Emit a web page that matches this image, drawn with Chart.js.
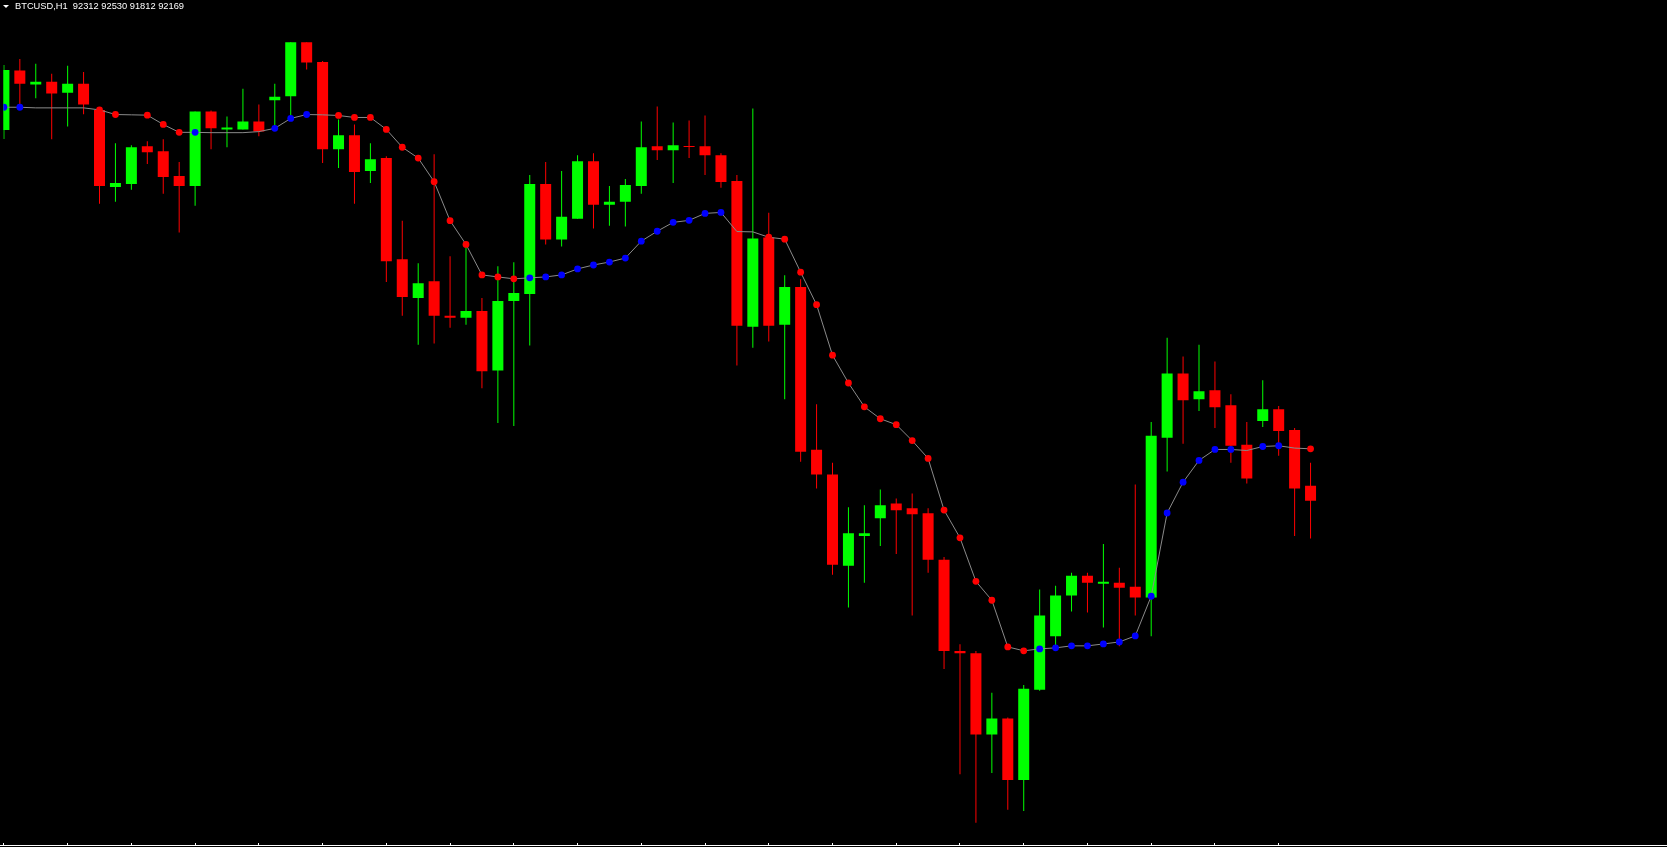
<!DOCTYPE html>
<html><head><meta charset="utf-8">
<script src="https://cdn.jsdelivr.net/npm/chart.js@4.4.1/dist/chart.umd.min.js"></script>
<style>
html,body{margin:0;padding:0;background:#000;}
#wrap{position:relative;width:1667px;height:847px;background:#000;overflow:hidden;}
#c{position:absolute;left:0;top:0;}
#title{position:absolute;left:15px;top:2px;color:#fff;font-family:'Liberation Sans',Arial,sans-serif;font-size:9.3px;line-height:9.3px;white-space:pre;}
#tri{position:absolute;left:3px;top:5px;width:0;height:0;border-left:3px solid transparent;border-right:3px solid transparent;border-top:3px solid #fff;}
</style></head><body>
<div id="wrap"><canvas id="c" width="1667" height="847"></canvas><div id="tri"></div><div id="title"></div></div>
<script>
const symbol = 'BTCUSD,H1';
const openP = [95683,96247,96115,96140,96037,96122,95874,95144,95172,95529,
95482,95247,95153,95858,95689,95689,95764,95965,96002,96516,
96328,95501,95633,95294,95417,94458,94091,94251,93922,93903,
93969,93405,94063,94129,95172,94646,94843,95388,94975,95003,
95153,95529,95492,95532,95529,95445,95200,93819,94665,93837,
94195,92653,92418,91553,91835,92004,92145,92098,92051,91610,
90745,90726,89955,90106,89523,90378,90886,91271,91459,91384,
91393,91356,91252,92766,93377,93132,93217,93076,92700,92926,
93038,92841,92312];
const highP = [96300,96357,96310,96216,96291,96234,95887,95558,95539,95576,
95595,95379,95858,95868,95811,96075,95924,96122,96516,96516,
96338,95783,95736,95558,95435,94824,94420,95454,94486,94580,
94091,94392,94430,95257,95379,95294,95445,95464,95153,95219,
95764,95905,95755,95774,95821,95464,95257,95887,94900,94307,
94270,93085,92531,92108,92127,92277,92192,92239,92098,91638,
90811,90745,90350,90115,90425,91328,91365,91487,91487,91760,
91534,92324,92916,93715,93537,93649,93490,93179,92916,93311,
93067,92860,92530];
const lowP = [95598,95887,95983,95595,95717,95833,94984,95003,95116,95360,
95078,94712,94965,95501,95520,95689,95623,95699,95795,96256,
95370,95323,94984,95182,94242,93922,93649,93659,93809,93837,
93236,92907,92879,93640,94599,94580,94843,94749,94777,94768,
95078,95398,95182,95417,95257,95135,93452,93621,93678,93132,
92540,92286,91469,91158,91393,91741,91666,91083,91487,90576,
89579,89119,89589,89241,89231,90369,90773,91121,91111,90970,
90792,91083,90886,92446,92709,93020,92860,92531,92333,92869,
92597,91835,91812];
const closeP = [96253,96122,96140,96028,96122,95924,95153,95182,95520,95473,
95238,95153,95858,95699,95708,95764,95670,95999,96516,96322,
95501,95633,95285,95407,94439,94101,94232,93922,93903,93969,
93396,94063,94138,95172,94646,94862,95388,94975,95003,95163,
95520,95492,95539,95523,95445,95191,93828,94655,93828,94195,
92634,92418,91563,91863,91863,92127,92080,92042,91610,90745,
90726,89955,90106,89523,90388,91083,91271,91459,91393,91403,
91346,91252,92785,93377,93123,93208,93057,92691,92380,93038,
92832,92286,92169];
const maValues = [95899,95899,95893,95893,95893,95893,95874,95830,95827,95824,
95736,95661,95661,95658,95658,95658,95668,95699,95793,95830,
95827,95821,95802,95802,95689,95520,95417,95194,94824,94599,
94310,94291,94273,94282,94291,94310,94367,94404,94432,94470,
94630,94724,94808,94827,94893,94902,94721,94718,94667,94649,
94336,94028,93549,93286,93060,92947,92891,92740,92571,92082,
91819,91406,91227,90785,90748,90766,90776,90795,90795,90813,
90832,90889,91265,92054,92346,92552,92656,92656,92646,92684,
92691,92669,92662];
const trend = ['B','B','','','','','R','R','','R',
'R','R','B','','','','','B','B','B',
'','R','R','R','R','R','R','R','R','R',
'R','R','R','B','B','B','B','B','B','B',
'B','B','B','B','B','B','','','R','R',
'R','R','R','R','R','R','R','R','R','R',
'R','R','R','R','R','B','B','B','B','B',
'B','B','B','B','B','B','B','B','','B',
'B','','R'];

const last = openP.length - 1;
document.getElementById('title').textContent =
  symbol + '  ' + openP[last] + ' ' + highP[last] + ' ' + lowP[last] + ' ' + closeP[last];

const UP = '#00ff00', DOWN = '#ff0000';
const idx = openP.map((_, i) => i);
const bodies = idx.map(i => ({x: i, y: [openP[i], closeP[i]]}));
const wicks = idx.map(i => ({x: i, y: [lowP[i], highP[i]]}));
const candleColors = idx.map(i => closeP[i] >= openP[i] ? UP : DOWN);
const maPoints = idx.map(i => ({x: i, y: maValues[i]}));
const dotColors = trend.map(t => t === 'B' ? '#0000ff' : (t === 'R' ? '#ff0000' : 'rgba(0,0,0,0)'));
const dotRadius = trend.map(t => t ? 3.4 : 0);

const bottomAxis = {
  id: 'bottomAxis',
  afterDraw(chart) {
    const ctx = chart.ctx, xs = chart.scales.x;
    ctx.save();
    ctx.fillStyle = '#ffffff';
    ctx.fillRect(0, 845, chart.width, 1);
    for (let k = 0; k * 4 <= last; k++) {
      ctx.fillRect(Math.floor(xs.getPixelForValue(k * 4)), 843, 1, 2);
    }
    ctx.restore();
  }
};

new Chart(document.getElementById('c'), {
  type: 'bar',
  data: {
    datasets: [
      {type: 'line', data: maPoints, borderColor: '#8a8a8a', borderWidth: 1, tension: 0,
       pointRadius: dotRadius, pointHoverRadius: dotRadius, pointBackgroundColor: dotColors,
       pointBorderWidth: 0, pointBorderColor: dotColors, order: 0},
      {data: bodies, backgroundColor: candleColors, borderWidth: 0, grouped: false,
       maxBarThickness: 11, barPercentage: 1, categoryPercentage: 1, inflateAmount: 0, order: 1},
      {data: wicks, backgroundColor: candleColors, borderWidth: 0, grouped: false,
       maxBarThickness: 1, barPercentage: 1, categoryPercentage: 1, inflateAmount: 0, order: 2}
    ]
  },
  options: {
    responsive: false,
    animation: false,
    devicePixelRatio: 1,
    layout: {padding: 0},
    plugins: {legend: {display: false}, tooltip: {enabled: false}, title: {display: false}},
    scales: {
      x: {type: 'linear', min: -0.03125, max: 104.15625, display: false, offset: false,
          grid: {offset: false}, bounds: 'ticks'},
      y: {type: 'linear', min: 88921, max: 96883, display: false, offset: false}
    }
  },
  plugins: [bottomAxis]
});
</script>
</body></html>
